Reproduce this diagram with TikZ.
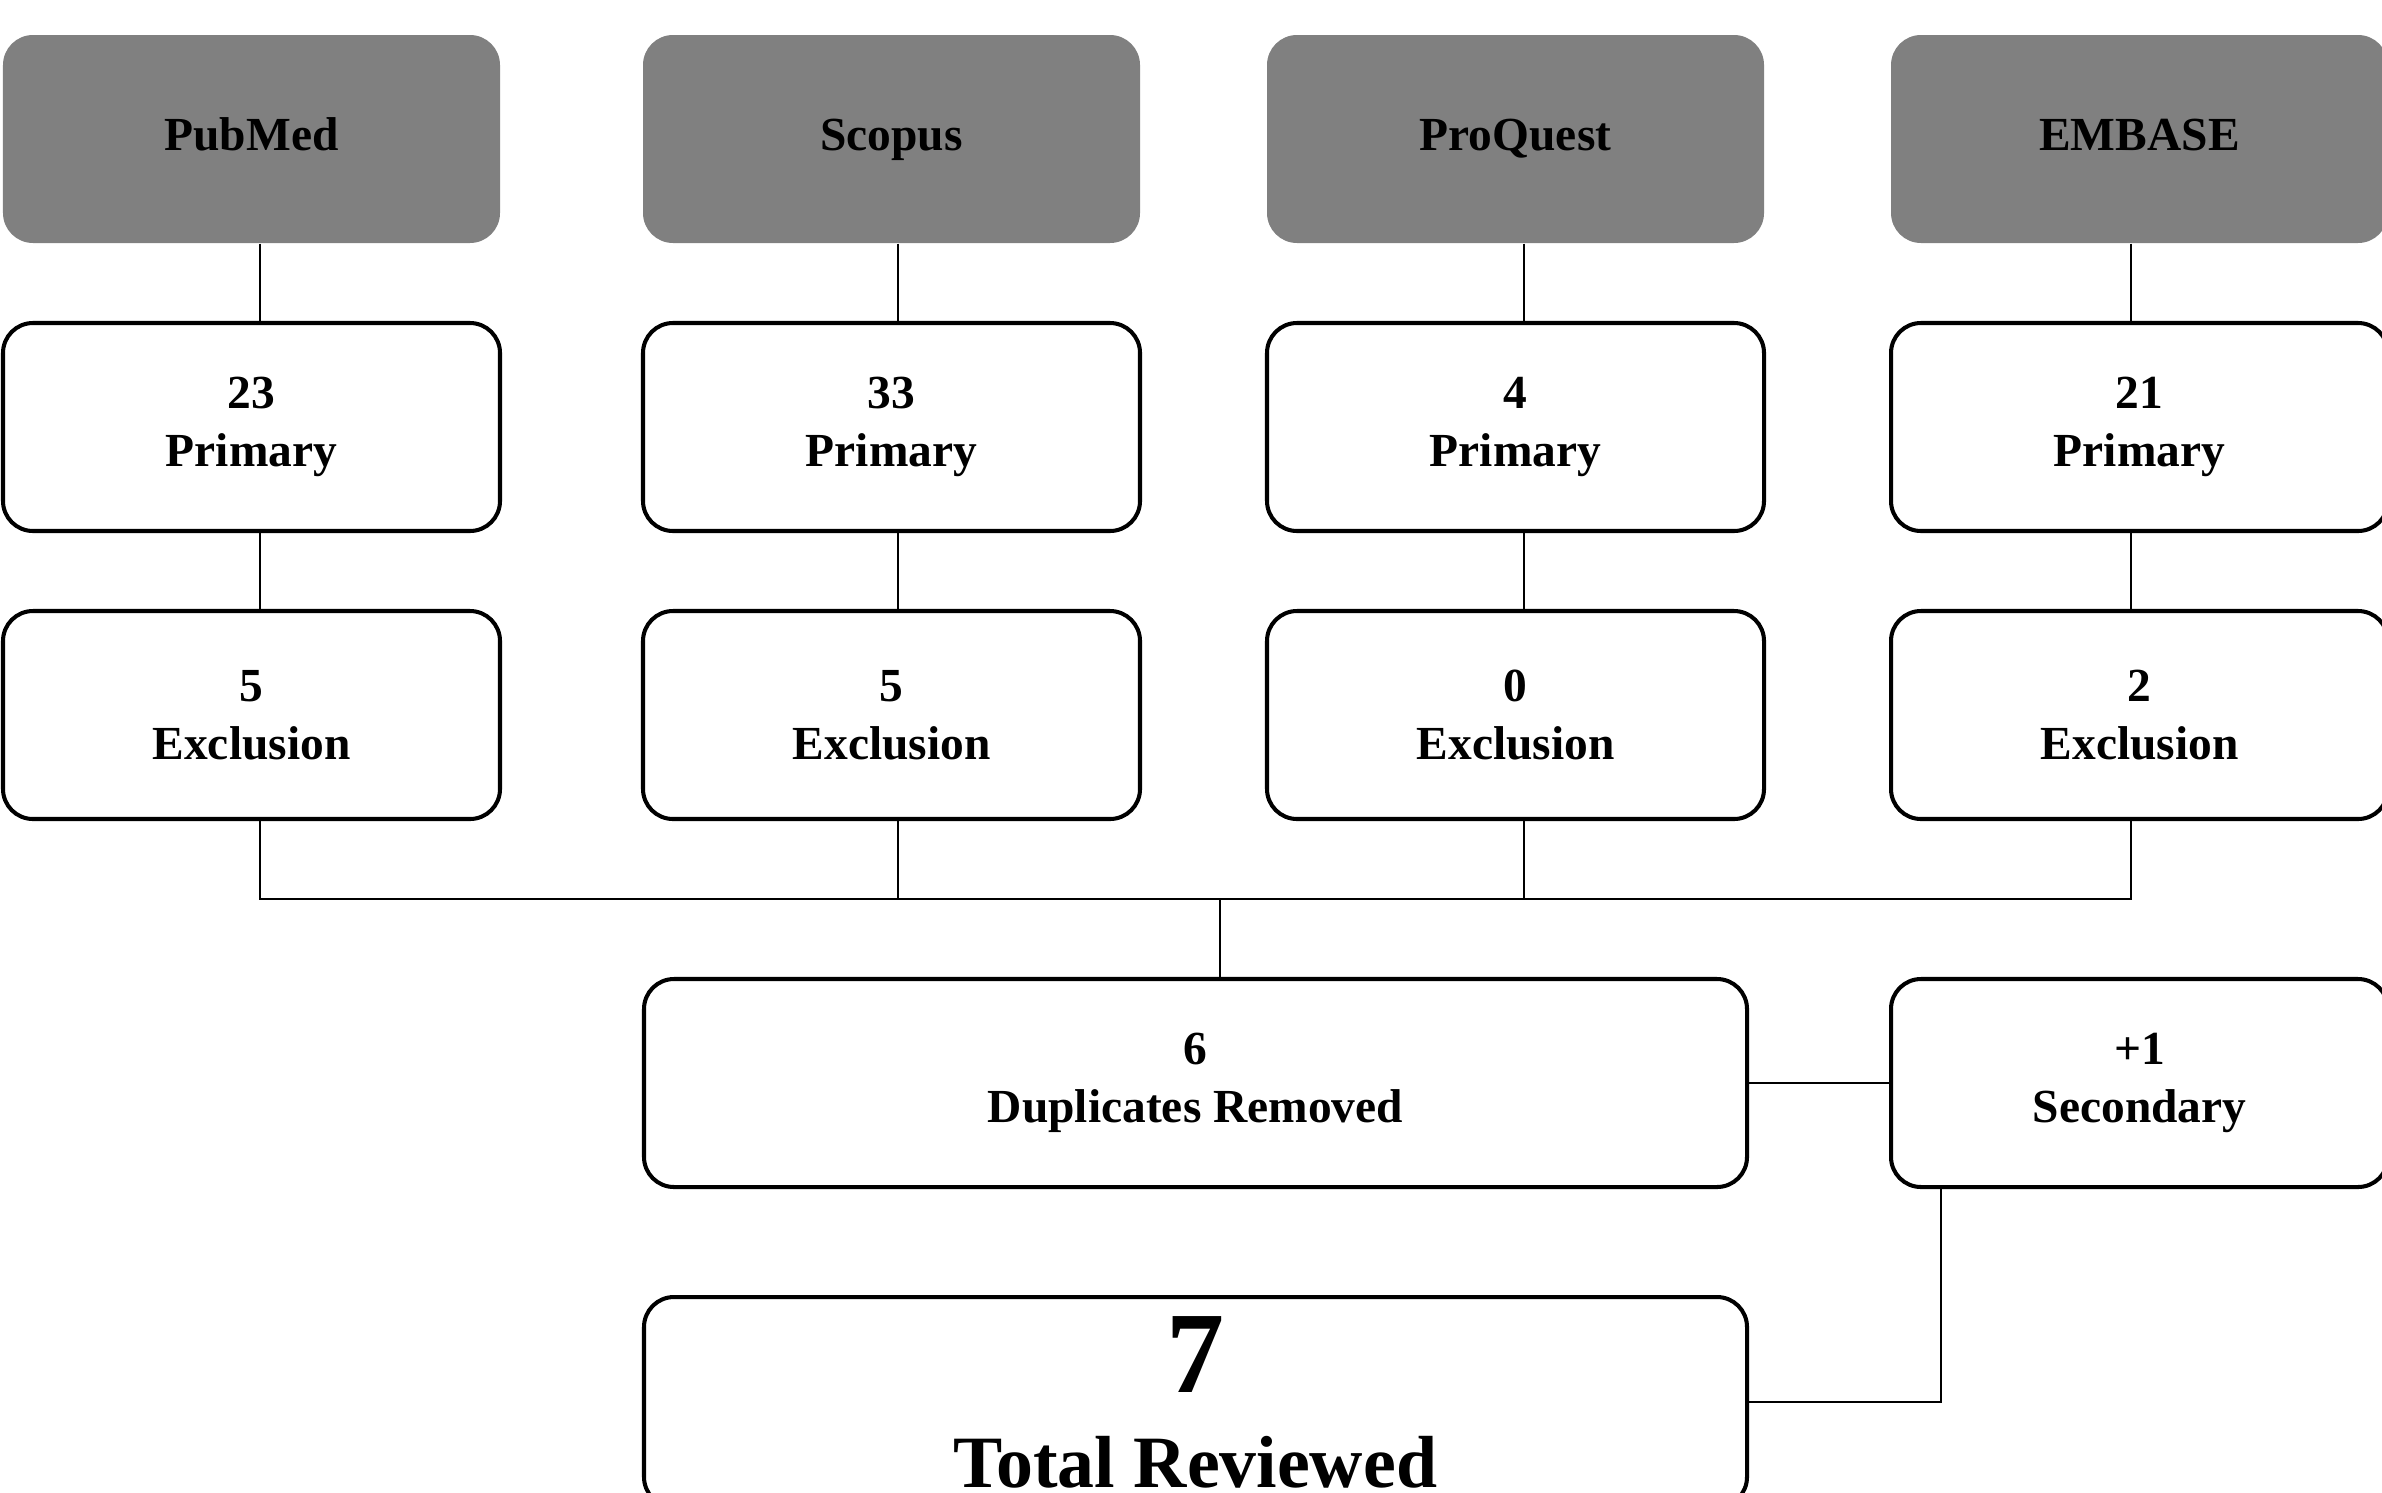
\documentclass[tikz,border=0pt]{standalone}
\usepackage{fontspec}
\setmainfont{Liberation Serif}
\usepackage{tikz}
\usetikzlibrary{positioning}
\definecolor{dbGray}{RGB}{128,128,128}

\begin{document}
\begin{tikzpicture}[
    src/.style={fill=dbGray, rounded corners=0.3cm, minimum width=4.97cm, minimum height=2.08cm,
                text height=0.8em, text depth=0.14em,
                font=\bfseries\fontsize{13.5}{16.5}\selectfont},
    cell/.style={draw, line width=1.15pt, rounded corners=0.3cm, fill=white, align=center,
                 minimum width=4.97cm, minimum height=2.08cm,
                 font=\bfseries\fontsize{13.5}{16.5}\selectfont},
    link/.style={line width=0.6pt}
  ]
  \useasboundingbox (0,0) rectangle (23.82,-14.92);
  \coordinate (bus) at (12.2,-8.99);

  % databases, hits and exclusions
  \foreach \i/\x/\dx/\db/\np/\ne in {1/2.515/0.085/PubMed/23/5, 2/8.915/0.065/Scopus/33/5,
                                     3/15.155/0.085/ProQuest/4/0, 4/21.395/-0.085/EMBASE/21/2} {
    \node[src] (s\i) at (\x,-1.39) {\db};
    \node[cell] (p\i) at (\x,-4.27) {\np\\Primary};
    \node[cell] (e\i) at (\x,-7.15) {\ne\\Exclusion};
    \draw[link] ([xshift=\dx cm]s\i.south) -- ([xshift=\dx cm]p\i.north);
    \draw[link] ([xshift=\dx cm]p\i.south) -- ([xshift=\dx cm]e\i.north);
    \draw[link] ([xshift=\dx cm]e\i.south) |- (bus);
  }

  % merging
  \node[cell, minimum width=11.03cm] (dup) at (11.955,-10.83) {6\\Duplicates Removed};
  \node[cell] (sec) at (21.395,-10.83) {+1\\Secondary};
  \node[cell, minimum width=11.03cm, minimum height=2.1cm,
        font=\bfseries\fontsize{21}{27}\selectfont] (total) at (11.955,-14.02)
       {{\fontsize{33}{33}\selectfont 7}\\Total Reviewed};
  \draw[link] (bus) -- (bus |- dup.north);
  \draw[link] (dup.east) -- (sec.west);
  \draw[link] ([xshift=0.52cm]sec.south west) |- (total.east);
\end{tikzpicture}
\end{document}
